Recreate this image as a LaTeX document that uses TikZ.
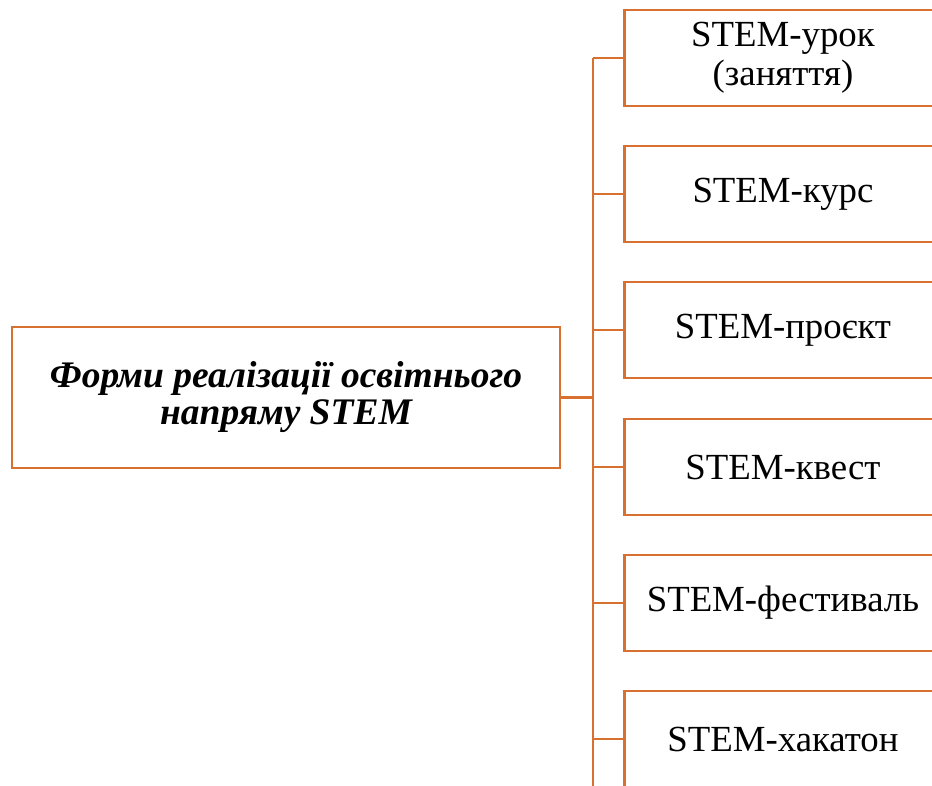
\documentclass[tikz,border=0pt]{standalone}
\usepackage{fontspec}
\setmainfont{Liberation Serif}
\definecolor{orng}{HTML}{D8712F}
\begin{document}
\begin{tikzpicture}[x=1pt,y=-1pt,
  box/.style={draw=orng,line width=2.9pt,fill=white,inner sep=0pt,align=center},
  formbox/.style={box,anchor=west,minimum width=317pt,minimum height=96pt,font=\fontsize{36.8}{39}\selectfont},
  conn/.style={draw=orng,line width=2.9pt}]
\useasboundingbox (0,0) rectangle (932,785);
\clip (0,0) rectangle (932,785);
\fill[white] (0,0) rectangle (932,785);
\node[box,minimum width=548pt,minimum height=141pt,font=\bfseries\itshape\fontsize{37.5}{37}\selectfont] (main) at (286,397.5) {\raisebox{-3pt}{Форми реалізації освітнього}\\\raisebox{-3pt}{напряму STEM}};
\node[formbox] (f1) at (623,58) {\raisebox{-4pt}{STEM-урок}\\\raisebox{-4pt}{(заняття)}};
\node[formbox] (f2) at (623,194) {\raisebox{-4pt}{STEM-курс}};
\node[formbox] (f3) at (623,330) {\raisebox{-4pt}{STEM-проєкт}};
\node[formbox] (f4) at (623,467) {\raisebox{-4pt}{STEM-квест}};
\node[formbox] (f5) at (623,603) {\raisebox{-4pt}{STEM-фестиваль}};
\node[formbox] (f6) at (623,739) {\raisebox{-4pt}{STEM-хакатон}};
\coordinate (bus) at (593,397.5);
\coordinate (bottom) at (593,790);
\draw[conn] (main.east) -- (bus);
\draw[conn] (bus |- f1.west) -- (bottom);
\foreach \i in {1,...,6}{\draw[conn] (bus |- f\i.west) -- (f\i.west);}
\end{tikzpicture}
\end{document}
